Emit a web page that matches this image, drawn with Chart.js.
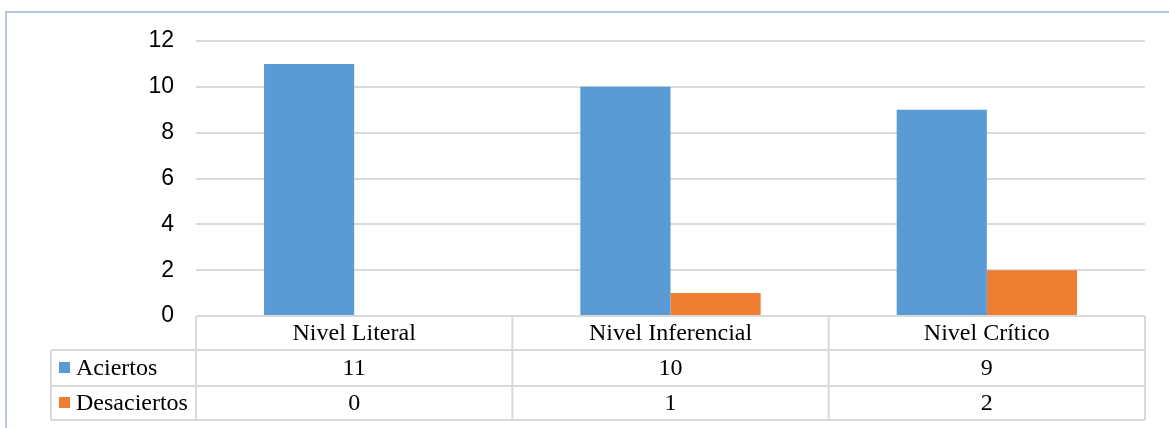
<!DOCTYPE html>
<html>
<head>
<meta charset="utf-8">
<script src="https://cdn.jsdelivr.net/npm/chart.js@4/dist/chart.umd.min.js"></script>
<style>
  html, body { margin: 0; padding: 0; background: #fff; }
  .wrap { position: relative; width: 1169px; height: 428px; }
  .frame { position: absolute; left: 5px; top: 11px; right: -2px; bottom: -2px;
           border-top: 2px solid #B4C7E7; border-left: 2px solid #B4C7E7; }
  canvas { position: absolute; left: 0; top: 0; }
</style>
</head>
<body>
<div class="wrap">
  <div class="frame"></div>
  <canvas id="c" width="1169" height="428"></canvas>
</div>
<script>
const categories = ["Nivel Literal", "Nivel Inferencial", "Nivel Crítico"];
const aciertos = [11, 10, 9];
const desaciertos = [0, 1, 2];
const yTicks = [0, 2, 4, 6, 8, 10, 12];

const BLUE = "#5B9BD5";
const ORANGE = "#ED7D31";
const LINE = "#D9D9D9";

// tabla de datos debajo del eje, alineada con la escala X
const dataTable = {
  id: "dataTable",
  afterDraw(chart) {
    const { ctx, scales: { x } } = chart;
    const area = chart.chartArea;
    const top = area.bottom;
    const rows = [top, 350, 386, 420];
    const labelLeft = 51;
    const colW = (area.right - area.left) / categories.length;

    ctx.save();
    ctx.strokeStyle = LINE;
    ctx.lineWidth = 2;

    // horizontales
    ctx.beginPath();
    ctx.moveTo(area.left, rows[0]); ctx.lineTo(area.right, rows[0]);
    for (let i = 1; i < rows.length; i++) {
      ctx.moveTo(labelLeft, rows[i]); ctx.lineTo(area.right, rows[i]);
    }
    // verticales
    ctx.moveTo(labelLeft, rows[1]); ctx.lineTo(labelLeft, rows[3]);
    for (let i = 0; i <= categories.length; i++) {
      const xx = area.left + i * colW;
      ctx.moveTo(xx, rows[0]); ctx.lineTo(xx, rows[3]);
    }
    ctx.stroke();

    ctx.fillStyle = "#000";
    ctx.font = '24px "Liberation Serif", "Times New Roman", serif';
    ctx.textAlign = "center";
    ctx.textBaseline = "middle";
    categories.forEach((cat, i) => {
      const cx = x.getPixelForValue(i);
      ctx.fillText(cat, cx, (rows[0] + rows[1]) / 2 + 1);
      ctx.fillText(String(aciertos[i]), cx, (rows[1] + rows[2]) / 2 + 1);
      ctx.fillText(String(desaciertos[i]), cx, (rows[2] + rows[3]) / 2 + 1);
    });

    const series = [
      { label: "Aciertos", color: BLUE },
      { label: "Desaciertos", color: ORANGE },
    ];
    ctx.textAlign = "left";
    series.forEach((s, i) => {
      const cy = (rows[i + 1] + rows[i + 2]) / 2;
      ctx.fillStyle = s.color;
      ctx.fillRect(59, cy - 6, 11, 11);
      ctx.fillStyle = "#000";
      ctx.fillText(s.label, 76, cy + 1);
    });
    ctx.restore();
  },
};

new Chart(document.getElementById("c"), {
  type: "bar",
  data: {
    labels: categories,
    datasets: [
      { label: "Aciertos", data: aciertos, backgroundColor: BLUE,
        categoryPercentage: 0.57, barPercentage: 1 },
      { label: "Desaciertos", data: desaciertos, backgroundColor: ORANGE,
        categoryPercentage: 0.57, barPercentage: 1 },
    ],
  },
  options: {
    responsive: false,
    animation: false,
    layout: { padding: { top: 41, right: 24, bottom: 112, left: 0 } },
    plugins: { legend: { display: false }, tooltip: { enabled: false } },
    scales: {
      x: { display: false },
      y: {
        min: 0, max: 12,
        afterBuildTicks(scale) { scale.ticks = yTicks.map(v => ({ value: v })); },
        afterFit(scale) { scale.width = 196; },
        border: { display: false },
        grid: { color: LINE, lineWidth: 2, drawTicks: false },
        ticks: {
          padding: 22,
          color: "#000",
          font: { family: '"Liberation Sans", Arial, sans-serif', size: 23 },
        },
      },
    },
  },
  plugins: [dataTable],
});
</script>
</body>
</html>
